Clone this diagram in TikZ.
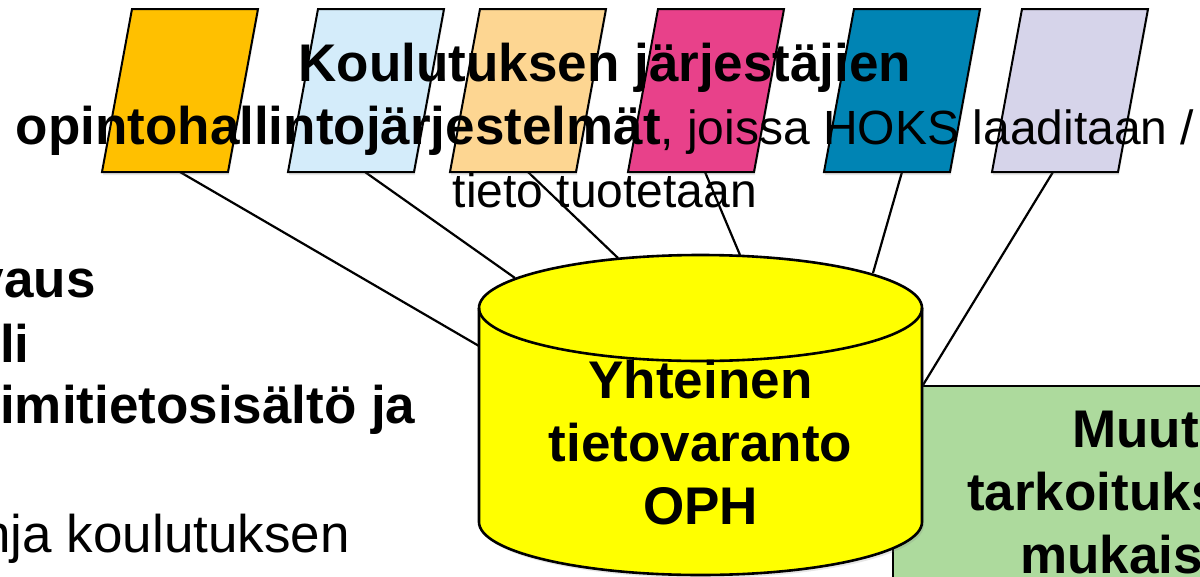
\documentclass[tikz,border=0pt]{standalone}
\usepackage{fontspec}
\setmainfont{Liberation Sans}
\usetikzlibrary{shadows}
\definecolor{pOrange}{HTML}{FFC000}
\definecolor{pBlue}{HTML}{D4ECFA}
\definecolor{pPeach}{HTML}{FDD692}
\definecolor{pPink}{HTML}{E8418A}
\definecolor{pTeal}{HTML}{0084B4}
\definecolor{pLav}{HTML}{D6D4EA}
\definecolor{cylYellow}{HTML}{FFFF00}
\definecolor{boxGreen}{HTML}{ADDA9D}
\pgfdeclarelayer{bg}
\pgfsetlayers{bg,main}
\begin{document}
\begin{tikzpicture}[x=1pt,y=-1pt,
  para/.style={draw=black, line width=2pt, line join=miter,
    drop shadow={shadow xshift=1pt, shadow yshift=-3pt, opacity=0.18}},
  conn/.style={draw=black, line width=2.2pt},
  cylbody/.style={draw=black, line width=2.6pt, fill=cylYellow,
    drop shadow={shadow xshift=2pt, shadow yshift=-3pt, opacity=0.2}},
  cylrim/.style={draw=black, line width=2.6pt},
  greenbox/.style={draw=black, line width=2pt, fill=boxGreen},
  boldtxt/.style={inner sep=0pt, font=\fontsize{53}{63}\selectfont\bfseries},
  regtxt/.style={inner sep=0pt, font=\fontsize{53}{63}\selectfont},
]
\useasboundingbox (0,0) rectangle (1200,576);

% parallelograms (organisers' systems)
\foreach \bx/\col/\nm in {102/pOrange/p1, 288/pBlue/p2, 450/pPeach/p3, 628/pPink/p4, 824/pTeal/p5, 992/pLav/p6}{
  \draw[para, fill=\col] (\bx,172) -- ++(126,0) -- ++(30,-163) -- ++(-126,0) -- cycle;
  \coordinate (\nm) at (\bx+78,90.5);
}
% connector start points on parallelograms
\coordinate (s1) at (180,172);
\coordinate (s2) at (365,172);
\coordinate (s3) at (528,172);
\coordinate (s4) at (705,172);
\coordinate (s5) at (902,172);
\coordinate (s6) at (1053,172);
% connector end points on the cylinder
\coordinate (e1) at (479,346);
\coordinate (e2) at (515,278);
\coordinate (e3) at (618,258);
\coordinate (e4) at (740,255);
\coordinate (e5) at (873,273);
\coordinate (e6) at (923,385);
\begin{pgfonlayer}{bg}
  \foreach \i in {1,...,6}{ \draw[conn] (s\i) -- (e\i); }
\end{pgfonlayer}

% green box (behind the cylinder)
\draw[greenbox] (893,386) rectangle (1215,600);
\node[boldtxt, anchor=base west] (muut) at (1072,447) {Muut};
\node[boldtxt, anchor=base west] (tark) at (967,510) {tarkoituks};
\node[boldtxt, anchor=base west] (muk) at (1020,573) {mukais};

% cylinder
\draw[cylbody] (479,308) -- (479,522)
  arc[start angle=180, end angle=360, x radius=221.5pt, y radius=53pt]
  -- (922,308)
  arc[start angle=0, end angle=180, x radius=221.5pt, y radius=53pt] -- cycle;
\draw[cylrim] (479,308) arc[start angle=180, end angle=360, x radius=221.5pt, y radius=53pt];
\coordinate (cyl) at (700.5,415);
\node[boldtxt, align=center, anchor=base] (cyltxt) at (700.5,524) {Yhteinen\\tietovaranto\\OPH};

% title
\node[boldtxt, align=center, anchor=base] (title) at (605,207)
  {Koulutuksen järjestäjien\\
   opintohallintojärjestelmät{\mdseries\fontsize{48}{62}\selectfont, joissa HOKS laaditaan /}\\
   {\mdseries\fontsize{48}{60}\selectfont tieto tuotetaan}};

% left text (cut off)
\node[boldtxt, anchor=base east] (l1) at (96,297) {vaus};
\node[boldtxt, anchor=base west] (l2) at (0,362) {li};
\node[boldtxt, anchor=base west] (l3) at (0,423) {imitietosisältö ja};
\node[regtxt, anchor=base east] (l4) at (350,552) {nja koulutuksen};
\end{tikzpicture}
\end{document}
